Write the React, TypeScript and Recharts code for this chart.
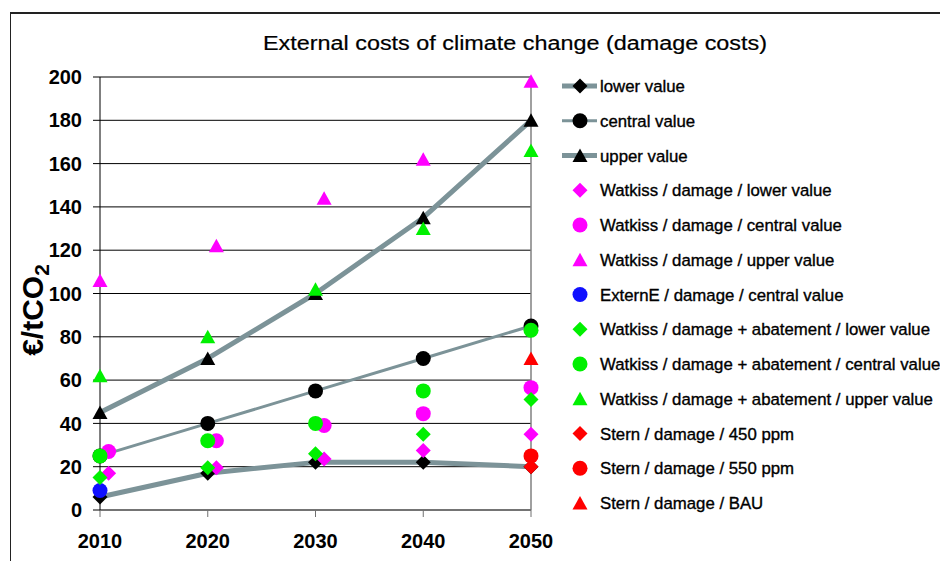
import { ScatterChart, Scatter, XAxis, YAxis, CartesianGrid, ReferenceLine } from "recharts";

const years = [2010, 2020, 2030, 2040, 2050];
// Watkiss damage points are drawn a little to the right of the category in the source
const watkissYears = [2010.8, 2020.8, 2030.8, 2040, 2050];
const watkissUpperYears = [2010, 2020.8, 2030.8, 2040, 2050];

const lowerValue = [6, 17, 22, 22, 20];
const centralValue = [25, 40, 55, 70, 85];
const upperValue = [45, 70, 100, 135, 180];

const watkissDamageLower = [17, 19.5, 23.5, 27.5, 35];
const watkissDamageCentral = [27, 32, 39, 44.5, 56.5];
const watkissDamageUpper = [106, 122, 144, 162, 198];

const externEYears = [2010];
const externECentral = [9];

const watkissAbatLower = [15, 19.5, 26, 35, 51];
const watkissAbatCentral = [25, 32, 40, 55, 83];
const watkissAbatUpper = [62, 80, 102, 130, 166];

const sternYears = [2050];
const stern450 = [20];
const stern550 = [25];
const sternBAU = [70];

const yTicks = [0, 20, 40, 60, 80, 100, 120, 140, 160, 180, 200];

const GRAY = "#7c9398";
const MAGENTA = "#ff00ff";
const GREEN = "#00f000";
const BLUE = "#1010ff";
const RED = "#ff0000";

type Kind = "diamond" | "circle" | "triangle";

const pts = (xs: number[], ys: number[]) => xs.map((x, i) => ({ x, y: ys[i] }));

function Marker({ cx, cy, kind, fill }: { cx: number; cy: number; kind: Kind; fill: string }) {
  if (cx == null || cy == null) return null;
  if (kind === "circle") return <circle cx={cx} cy={cy} r={7.5} fill={fill} />;
  if (kind === "triangle")
    return <polygon points={`${cx},${cy - 7} ${cx + 7.5},${cy + 6.5} ${cx - 7.5},${cy + 6.5}`} fill={fill} />;
  return <polygon points={`${cx},${cy - 7.5} ${cx + 7.5},${cy} ${cx},${cy + 7.5} ${cx - 7.5},${cy}`} fill={fill} />;
}

const shape = (kind: Kind, fill: string) => (p: any) => <Marker cx={p.cx} cy={p.cy} kind={kind} fill={fill} />;

const series = [
  { name: "lower value", data: pts(years, lowerValue), kind: "diamond" as Kind, color: "#000", line: 5 },
  { name: "central value", data: pts(years, centralValue), kind: "circle" as Kind, color: "#000", line: 3 },
  { name: "upper value", data: pts(years, upperValue), kind: "triangle" as Kind, color: "#000", line: 5 },
  { name: "Watkiss / damage / lower value", data: pts(watkissYears, watkissDamageLower), kind: "diamond" as Kind, color: MAGENTA },
  { name: "Watkiss / damage / central value", data: pts(watkissYears, watkissDamageCentral), kind: "circle" as Kind, color: MAGENTA },
  { name: "Watkiss / damage / upper value", data: pts(watkissUpperYears, watkissDamageUpper), kind: "triangle" as Kind, color: MAGENTA },
  { name: "ExternE / damage / central value", data: pts(externEYears, externECentral), kind: "circle" as Kind, color: BLUE },
  { name: "Watkiss / damage + abatement / lower value", data: pts(years, watkissAbatLower), kind: "diamond" as Kind, color: GREEN },
  { name: "Watkiss / damage + abatement / central value", data: pts(years, watkissAbatCentral), kind: "circle" as Kind, color: GREEN },
  { name: "Watkiss / damage + abatement / upper value", data: pts(years, watkissAbatUpper), kind: "triangle" as Kind, color: GREEN },
  { name: "Stern / damage / 450 ppm", data: pts(sternYears, stern450), kind: "diamond" as Kind, color: RED },
  { name: "Stern / damage / 550 ppm", data: pts(sternYears, stern550), kind: "circle" as Kind, color: RED },
  { name: "Stern / damage / BAU", data: pts(sternYears, sternBAU), kind: "triangle" as Kind, color: RED },
];

const FONT = "'Liberation Sans', Arial, sans-serif";

function YLabel() {
  return (
    <text
      transform="translate(35,302) rotate(-90)"
      textAnchor="middle"
      fontSize={30}
      fontWeight="bold"
      fontFamily={FONT}
      fill="#000"
    >
      €/tCO<tspan fontSize={21} dy={6}>2</tspan>
    </text>
  );
}

export default function App() {
  return (
    <div style={{ position: "relative", width: 940, height: 553, fontFamily: FONT }}>
      <div
        style={{
          position: "absolute",
          left: 2,
          top: 4,
          width: 938,
          height: 549,
          borderTop: "2px solid #222",
          borderLeft: "1.5px solid #222",
        }}
      />
      <ScatterChart
        width={940}
        height={553}
        margin={{ top: 69, right: 417, bottom: 21, left: 32 }}
        style={{ position: "absolute", left: 0, top: 0 }}
      >
        <CartesianGrid vertical={false} stroke="#000" strokeWidth={1} />
        <XAxis
          type="number"
          dataKey="x"
          domain={[2010, 2050]}
          ticks={years}
          height={30}
          tickSize={7}
          tickMargin={17}
          axisLine={{ stroke: "#707070", strokeWidth: 1.5 }}
          tickLine={{ stroke: "#707070" }}
          tick={{ fontSize: 20, fontWeight: "bold", fill: "#000", fontFamily: FONT }}
        />
        <YAxis
          type="number"
          dataKey="y"
          domain={[0, 200]}
          ticks={yTicks}
          width={60}
          tickSize={7}
          tickMargin={11}
          axisLine={{ stroke: "#000" }}
          tickLine={{ stroke: "#000" }}
          tick={{ fontSize: 20, fontWeight: "bold", fill: "#000", fontFamily: FONT }}
          label={<YLabel />}
        />
        <ReferenceLine x={2050} stroke="#808080" strokeWidth={1.5} />
        {series.map((s) => (
          <Scatter
            key={s.name}
            name={s.name}
            data={s.data}
            fill={s.color}
            line={s.line ? { stroke: GRAY, strokeWidth: s.line, strokeLinejoin: "round" } : false}
            lineType="joint"
            shape={shape(s.kind, s.color)}
            isAnimationActive={false}
          />
        ))}
      </ScatterChart>
      <svg
        width={940}
        height={553}
        style={{ position: "absolute", left: 0, top: 0, pointerEvents: "none" }}
        fontFamily={FONT}
      >
        <text
          x={255}
          y={42}
          fontSize={20}
          textLength={504}
          lengthAdjust="spacingAndGlyphs"
          fill="#000"
          stroke="#000"
          strokeWidth={0.2}
        >
          External costs of climate change (damage costs)
        </text>
        {series.map((s, i) => {
          const cy = 78 + i * 34.75;
          return (
            <g key={s.name}>
              {s.line ? <line x1={554} x2={589} y1={cy} y2={cy} stroke={GRAY} strokeWidth={s.line} /> : null}
              <Marker cx={572} cy={cy} kind={s.kind} fill={s.color} />
              <text x={592} y={cy + 6} fontSize={16.8} fill="#000" stroke="#000" strokeWidth={0.35}>
                {s.name}
              </text>
            </g>
          );
        })}
      </svg>
    </div>
  );
}
